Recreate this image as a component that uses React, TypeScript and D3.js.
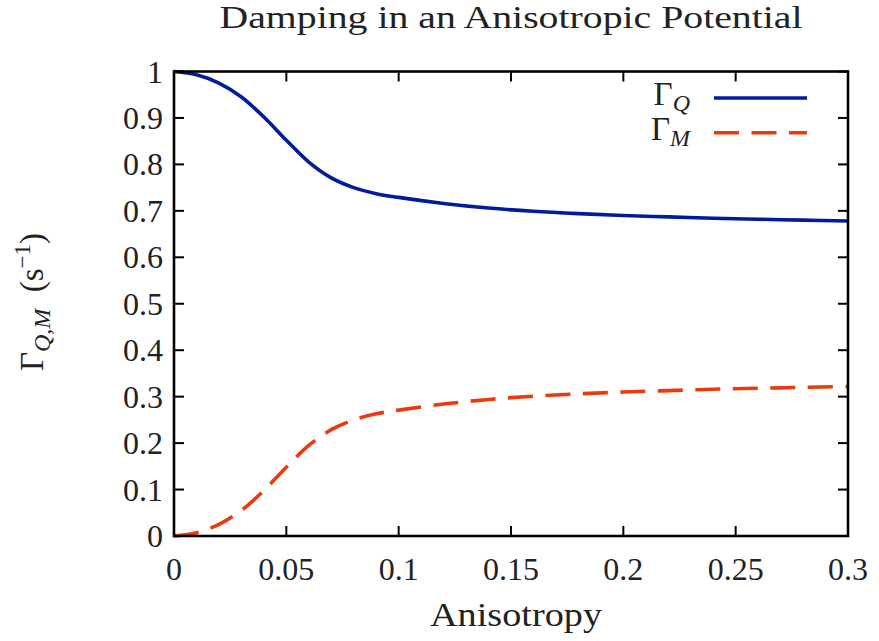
import React from "react";
import * as d3 from "d3";

// Anisotropy values (x) and the two damping rates sampled along them
const anisotropy = [0, 0.01, 0.02, 0.03, 0.04, 0.05, 0.06, 0.07, 0.08, 0.09, 0.1, 0.12, 0.14, 0.16, 0.18, 0.2, 0.22, 0.24, 0.26, 0.28, 0.3];
const gammaQ = [1.0, 0.993, 0.975, 0.945, 0.902, 0.852, 0.805, 0.771, 0.75, 0.737, 0.729, 0.716, 0.706, 0.699, 0.694, 0.69, 0.687, 0.684, 0.682, 0.68, 0.678];
const gammaM = [0.0, 0.007, 0.025, 0.055, 0.098, 0.148, 0.195, 0.229, 0.25, 0.263, 0.271, 0.284, 0.294, 0.301, 0.306, 0.31, 0.313, 0.316, 0.318, 0.32, 0.322];

const xTicks = [0, 0.05, 0.1, 0.15, 0.2, 0.25, 0.3];
const xTickLabels = ["0", "0.05", "0.1", "0.15", "0.2", "0.25", "0.3"];
const yTicks = [0, 0.1, 0.2, 0.3, 0.4, 0.5, 0.6, 0.7, 0.8, 0.9, 1];
const yTickLabels = ["0", "0.1", "0.2", "0.3", "0.4", "0.5", "0.6", "0.7", "0.8", "0.9", "1"];

const W = 879;
const H = 641;
const left = 174;
const right = 848;
const top = 71.5;
const bottom = 536;
const FONT = "'Liberation Serif', 'Times New Roman', Tinos, Times, serif";
const BLUE = "#001c9c";
const RED = "#ec3a0c";

export default function App() {
  const x = d3.scaleLinear().domain([0, 0.3]).range([left, right]);
  const y = d3.scaleLinear().domain([0, 1]).range([bottom, top]);

  const line = d3
    .line<number>()
    .x((_, i) => x(anisotropy[i]))
    .y((d) => y(d))
    .curve(d3.curveCatmullRom.alpha(0.5));

  const tickLen = 10;

  return (
    <svg
      width={W}
      height={H}
      style={{ position: "absolute", left: 0, top: 0, background: "#fff", fontFamily: FONT }}
    >
      <rect x={0} y={0} width={W} height={H} fill="#fff" />

      {/* title */}
      <text x={511} y={28} textAnchor="middle" fontSize={31} textLength={583} lengthAdjust="spacingAndGlyphs" fill="#222">
        Damping in an Anisotropic Potential
      </text>

      {/* curves */}
      <path d={line(gammaQ) ?? ""} fill="none" stroke={BLUE} strokeWidth={3.6} />
      <path d={line(gammaM) ?? ""} fill="none" stroke={RED} strokeWidth={3.6} strokeDasharray="25 12.5" />

      {/* ticks on all four sides, pointing inward */}
      {xTicks.map((t, i) => (
        <g key={"xt" + i}>
          <line x1={x(t)} x2={x(t)} y1={bottom} y2={bottom - tickLen} stroke="#000" strokeWidth={2} />
          <line x1={x(t)} x2={x(t)} y1={top} y2={top + tickLen} stroke="#000" strokeWidth={2} />
          <text x={x(t)} y={580} textAnchor="middle" fontSize={32} fill="#222">
            {xTickLabels[i]}
          </text>
        </g>
      ))}
      {yTicks.map((t, i) => (
        <g key={"yt" + i}>
          <line x1={left} x2={left + tickLen} y1={y(t)} y2={y(t)} stroke="#000" strokeWidth={2} />
          <line x1={right} x2={right - tickLen} y1={y(t)} y2={y(t)} stroke="#000" strokeWidth={2} />
          <text x={163} y={y(t) + 11} textAnchor="end" fontSize={32} fill="#222">
            {yTickLabels[i]}
          </text>
        </g>
      ))}

      {/* frame */}
      <rect x={left} y={top} width={right - left} height={bottom - top} fill="none" stroke="#000" strokeWidth={2.6} />

      {/* axis titles */}
      <text x={516} y={626} textAnchor="middle" fontSize={34} textLength={172} lengthAdjust="spacingAndGlyphs" fill="#222">
        Anisotropy
      </text>
      <text transform="translate(43,302) rotate(-90)" textAnchor="middle" fontSize={33} fill="#222">
        Γ
        <tspan fontStyle="italic" fontSize={24} dy={7}>Q,M</tspan>
        <tspan dy={-7}>{"\u2002(s"}</tspan>
        <tspan fontSize={23} dy={-13}>−1</tspan>
        <tspan dy={13}>)</tspan>
      </text>

      {/* legend */}
      <text x={690} y={105} textAnchor="end" fontSize={33} fill="#222">
        Γ<tspan fontStyle="italic" fontSize={24} dy={6}>Q</tspan>
      </text>
      <line x1={714} x2={807} y1={98} y2={98} stroke={BLUE} strokeWidth={3.6} />
      <text x={690} y={140} textAnchor="end" fontSize={33} fill="#222">
        Γ<tspan fontStyle="italic" fontSize={24} dy={6}>M</tspan>
      </text>
      <line x1={714} x2={807} y1={132.7} y2={132.7} stroke={RED} strokeWidth={3.6} strokeDasharray="25 12.5" />
    </svg>
  );
}
